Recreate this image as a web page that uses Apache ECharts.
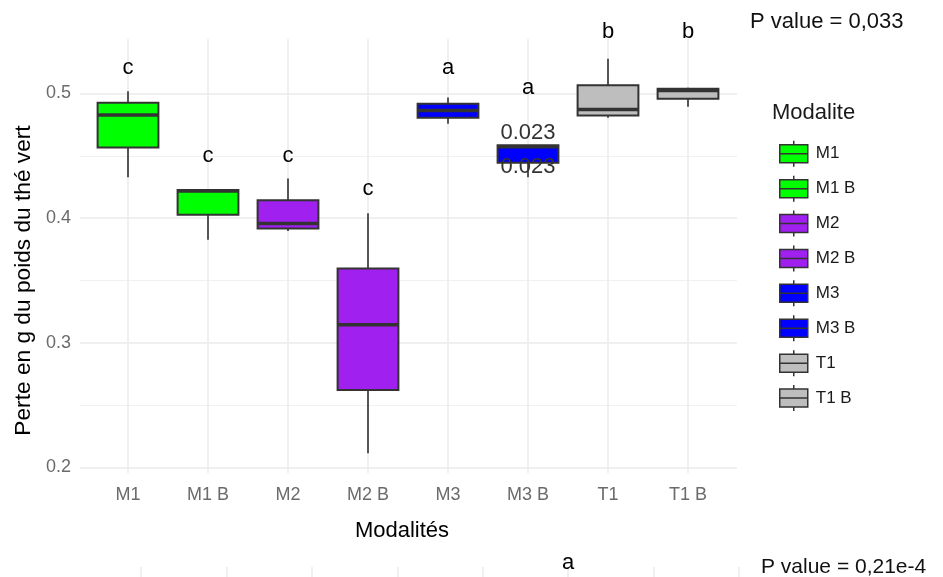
<!DOCTYPE html>
<html>
<head>
<meta charset="utf-8">
<script src="https://cdn.jsdelivr.net/npm/echarts@6/dist/echarts.min.js"></script>
<style>html,body{margin:0;padding:0;background:#fff}#c{width:943px;height:577px}</style>
</head>
<body>
<div id="c"></div>
<script>
// ---- data ----
const categories   = ['M1', 'M1 B', 'M2', 'M2 B', 'M3', 'M3 B', 'T1', 'T1 B'];
const whiskerLow   = [0.432, 0.382, 0.389, 0.211, 0.475, 0.432, 0.4797, 0.4886];
const lowerQuart   = [0.456, 0.402, 0.391, 0.2616, 0.4797, 0.4437, 0.4816, 0.495];
const medians      = [0.482, 0.421, 0.395, 0.314, 0.4856, 0.4565, 0.4864, 0.5016];
const upperQuart   = [0.4918, 0.4218, 0.4136, 0.359, 0.491, 0.4578, 0.5058, 0.503];
const whiskerHigh  = [0.501, 0.4218, 0.431, 0.4032, 0.496, 0.4578, 0.527, 0.5038];
const fillColors   = ['#00ff00', '#00ff00', '#a020f0', '#a020f0', '#0000ff', '#0000ff', '#bebebe', '#bebebe'];
const groupLetters = ['c', 'c', 'c', 'c', 'a', 'a', 'b', 'b'];
const letterY      = [0.5198, 0.4488, 0.4488, 0.4228, 0.5198, 0.5038, 0.5483, 0.5483];
const annotCategory = [5, 5];
const annotText     = ['0.023', '0.023'];
const annotY        = [0.4673, 0.4406];
const yTickMin = 0.2, yTickMax = 0.5, yTickStep = 0.1;
const yRange = [0.1952, 0.5428];
const lowerLetters  = ['a'];
const lowerLetterCat = [5];
const lowerLetterY  = [1.37];
const pValueTop = 'P value = 0,033';
const pValueBottom = 'P value = 0,21e-4';
const yTitle = 'Perte en g du poids du thé vert';
const xTitle = 'Modalités';
const legendTitle = 'Modalite';

const FONT = '"Liberation Sans", Arial, Helvetica, sans-serif';
const chart = echarts.init(document.getElementById('c'), null, {renderer: 'canvas'});

function renderBox(params, api) {
  const x = api.value(0);
  const lo = api.coord([x, api.value(1)]);
  const b1 = api.coord([x, api.value(2)]);
  const md = api.coord([x, api.value(3)]);
  const b3 = api.coord([x, api.value(4)]);
  const hi = api.coord([x, api.value(5)]);
  const w = api.size([1, 0])[0] * 0.76;
  const cx = lo[0];
  return {
    type: 'group',
    children: [
      {type: 'line', shape: {x1: cx, y1: hi[1], x2: cx, y2: b3[1]}, style: {stroke: '#555555', lineWidth: 2}},
      {type: 'line', shape: {x1: cx, y1: b1[1], x2: cx, y2: lo[1]}, style: {stroke: '#555555', lineWidth: 2}},
      {type: 'rect', shape: {x: cx - w / 2, y: b3[1], width: w, height: Math.max(b1[1] - b3[1], 1)},
        style: {fill: api.visual('color'), stroke: '#333333', lineWidth: 2}},
      {type: 'line', shape: {x1: cx - w / 2, y1: md[1], x2: cx + w / 2, y2: md[1]}, style: {stroke: '#333333', lineWidth: 3.5}}
    ]
  };
}

function makeTextRenderer(texts, size, color) {
  return function (params, api) {
    const p = api.coord([api.value(0), api.value(1)]);
    return {
      type: 'text',
      style: {
        text: texts[params.dataIndex], x: p[0], y: p[1],
        align: 'center', verticalAlign: 'middle',
        font: size + 'px ' + FONT, fill: color
      }
    };
  };
}

const boxSeries = categories.map((c, i) => ({
  type: 'custom',
  name: c,
  xAxisIndex: 1,
  yAxisIndex: 1,
  renderItem: renderBox,
  itemStyle: {color: fillColors[i]},
  encode: {x: 0, y: [1, 2, 3, 4, 5]},
  silent: true,
  data: [[i, whiskerLow[i], lowerQuart[i], medians[i], upperQuart[i], whiskerHigh[i]]],
  z: 2
}));

const boxIcon = 'path://M0 4 L28 4 L28 22 L0 22 Z M14 0 L14 4 M14 22 L14 26 M0 13 L28 13';

const option = {
  backgroundColor: '#ffffff',
  animation: false,
  textStyle: {fontFamily: FONT},
  grid: [
    {left: 80, right: 206, top: 93.5, bottom: 109.5},
    {left: 128, right: 255, top: 39, bottom: 104},
    {left: 141, right: 204, top: 567, bottom: 0}
  ],
  xAxis: [
    {gridIndex: 0, type: 'value', show: false, min: 0, max: 1},
    {gridIndex: 1, type: 'category', data: categories, boundaryGap: false,
      axisLine: {show: false}, axisTick: {show: false},
      axisLabel: {color: '#6b6b6b', fontSize: 18, margin: 13, fontFamily: FONT},
      splitLine: {show: true, lineStyle: {color: '#ebebeb', width: 1.5}}},
    {gridIndex: 2, type: 'category', data: categories, boundaryGap: false,
      axisLine: {show: false}, axisTick: {show: false}, axisLabel: {show: false},
      splitLine: {show: true, lineStyle: {color: '#ebebeb', width: 1.5}}}
  ],
  yAxis: [
    {gridIndex: 0, type: 'value', min: yTickMin, max: yTickMax, interval: yTickStep,
      axisLine: {show: false}, axisTick: {show: false},
      axisLabel: {color: '#6b6b6b', fontSize: 18, margin: 9, fontFamily: FONT, formatter: v => v.toFixed(1)},
      splitLine: {show: true, lineStyle: {color: '#ebebeb', width: 1.5}},
      minorTick: {show: false, splitNumber: 2},
      minorSplitLine: {show: true, lineStyle: {color: '#f1f1f1', width: 1}},
      name: yTitle, nameLocation: 'middle', nameRotate: 90, nameGap: 36,
      nameTextStyle: {color: '#000', fontSize: 22.7, fontFamily: FONT}},
    {gridIndex: 1, type: 'value', min: yRange[0], max: yRange[1], show: false, splitLine: {show: false}},
    {gridIndex: 2, type: 'value', min: 0, max: 1, show: false, splitLine: {show: false}}
  ],
  legend: {
    left: 774, top: 135, orient: 'vertical',
    itemWidth: 28, itemHeight: 26, itemGap: 7.4,
    selectedMode: false,
    textStyle: {fontSize: 17, color: '#1a1a1a', fontFamily: FONT, padding: [0, 0, 0, 3]},
    data: categories.map((c, i) => ({
      name: c, icon: boxIcon,
      itemStyle: {color: fillColors[i], borderColor: '#333333', borderWidth: 1.5}
    }))
  },
  graphic: [
    {type: 'text', x: 750, y: 22, silent: true,
      style: {text: pValueTop, font: '22px ' + FONT, fill: '#111', align: 'left', verticalAlign: 'middle'}},
    {type: 'text', x: 772, y: 113, silent: true,
      style: {text: legendTitle, font: '22px ' + FONT, fill: '#1a1a1a', align: 'left', verticalAlign: 'middle'}},
    {type: 'text', x: 402, y: 520, silent: true,
      style: {text: xTitle, font: '22px ' + FONT, fill: '#000', align: 'center', verticalAlign: 'top'}},
    {type: 'rect', shape: {x: 300, y: 539, width: 220, height: 15}, style: {fill: '#fff'}, z: 100, silent: true},
    {type: 'text', x: 761, y: 567, silent: true,
      style: {text: pValueBottom, font: '21px ' + FONT, fill: '#111', align: 'left', verticalAlign: 'middle'}}
  ],
  series: boxSeries.concat([
    {type: 'custom', name: 'letters', xAxisIndex: 1, yAxisIndex: 1, silent: true, z: 3,
      renderItem: makeTextRenderer(groupLetters, 22, '#000'),
      data: groupLetters.map((l, i) => [i, letterY[i]])},
    {type: 'custom', name: 'annot', xAxisIndex: 1, yAxisIndex: 1, silent: true, z: 4,
      renderItem: makeTextRenderer(annotText, 22, '#333'),
      data: annotText.map((t, i) => [annotCategory[i], annotY[i]])},
    {type: 'custom', name: 'lowerLetters', xAxisIndex: 2, yAxisIndex: 2, silent: true, z: 3,
      renderItem: makeTextRenderer(lowerLetters, 22, '#000'),
      data: lowerLetters.map((l, i) => [lowerLetterCat[i], lowerLetterY[i]])}
  ])
};
chart.setOption(option);
</script>
</body>
</html>
